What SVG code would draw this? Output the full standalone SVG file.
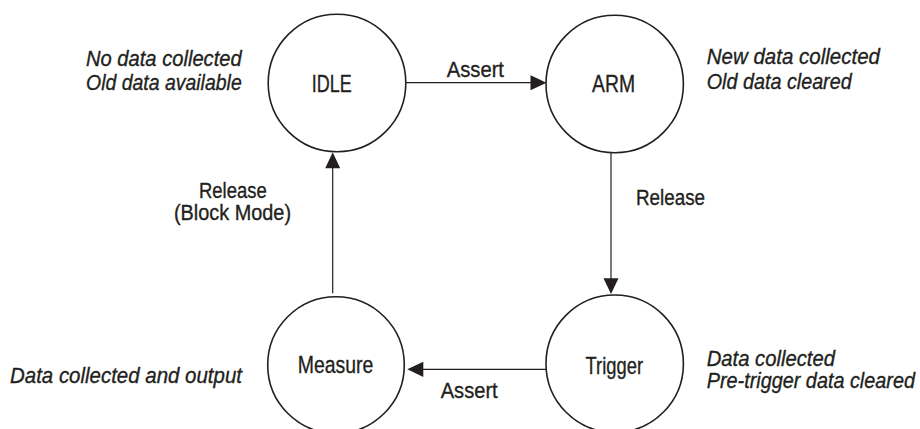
<svg xmlns="http://www.w3.org/2000/svg" width="920" height="429" viewBox="0 0 920 429">
<style>
  text { font-family: "Liberation Sans Narrow", "Liberation Sans", Arial, sans-serif; fill: #231f20; stroke: #231f20; stroke-width: 0.35; }
  .node { fill: #ffffff; stroke: #231f20; stroke-width: 1.6; }
  .nl { font-size: 24.5px; }
  .el { font-size: 21.5px; }
  .note { font-size: 22.5px; font-style: italic; }
  .conn { stroke: #231f20; stroke-width: 1.2; fill: none; }
  .head { fill: #231f20; stroke: none; }
</style>
<rect width="920" height="429" fill="#ffffff"/>
<g id="connectors">
  <line class="conn" x1="406" y1="82.7" x2="532" y2="82.7"/>
  <polygon class="head" points="546.5,82.7 530.5,75.2 530.5,90.2"/>
  <line class="conn" x1="611" y1="153" x2="611" y2="280"/>
  <polygon class="head" points="611,294 603.5,278.3 618.5,278.3"/>
  <line class="conn" x1="546" y1="369.3" x2="421" y2="369.3"/>
  <polygon class="head" points="407.3,369.3 423.3,361.7 423.3,377.1"/>
  <line class="conn" x1="332.7" y1="293.3" x2="332.7" y2="166"/>
  <polygon class="head" points="332.7,152.3 325.2,168.3 340.2,168.3"/>
  <text class="el" x="446.7" y="77" textLength="57.3" lengthAdjust="spacingAndGlyphs">Assert</text>
  <text class="el" x="636" y="204.5" textLength="69" lengthAdjust="spacingAndGlyphs">Release</text>
  <text class="el" x="440.7" y="398.3" textLength="57" lengthAdjust="spacingAndGlyphs">Assert</text>
  <text class="el" x="199" y="198.3" textLength="67.7" lengthAdjust="spacingAndGlyphs">Release</text>
  <text class="el" x="174" y="219.5" textLength="117" lengthAdjust="spacingAndGlyphs">(Block Mode)</text>
</g>
<g id="idle">
  <circle class="node" cx="337" cy="83" r="68.8"/>
  <text class="nl" x="311.7" y="92" textLength="40" lengthAdjust="spacingAndGlyphs">IDLE</text>
  <text class="note" x="86" y="65.5" textLength="155.7" lengthAdjust="spacingAndGlyphs">No data collected</text>
  <text class="note" x="86" y="90" textLength="155.7" lengthAdjust="spacingAndGlyphs">Old data available</text>
</g>
<g id="arm">
  <circle class="node" cx="614.7" cy="84" r="68.7"/>
  <text class="nl" x="592" y="92" textLength="43" lengthAdjust="spacingAndGlyphs">ARM</text>
  <text class="note" x="706.7" y="63.5" textLength="173.3" lengthAdjust="spacingAndGlyphs">New data collected</text>
  <text class="note" x="706.7" y="88.5" textLength="145" lengthAdjust="spacingAndGlyphs">Old data cleared</text>
</g>
<g id="trigger">
  <circle class="node" cx="614.7" cy="363.7" r="68.7"/>
  <text class="nl" x="585.5" y="374" textLength="57.5" lengthAdjust="spacingAndGlyphs">Trigger</text>
  <text class="note" x="706.7" y="366" textLength="128.3" lengthAdjust="spacingAndGlyphs">Data collected</text>
  <text class="note" x="706.7" y="388.3" textLength="208.3" lengthAdjust="spacingAndGlyphs">Pre-trigger data cleared</text>
</g>
<g id="measure">
  <circle class="node" cx="336" cy="365" r="68.3"/>
  <text class="nl" x="297.7" y="372.7" textLength="75.6" lengthAdjust="spacingAndGlyphs">Measure</text>
  <text class="note" x="10" y="383.3" textLength="232" lengthAdjust="spacingAndGlyphs">Data collected and output</text>
</g>
</svg>
